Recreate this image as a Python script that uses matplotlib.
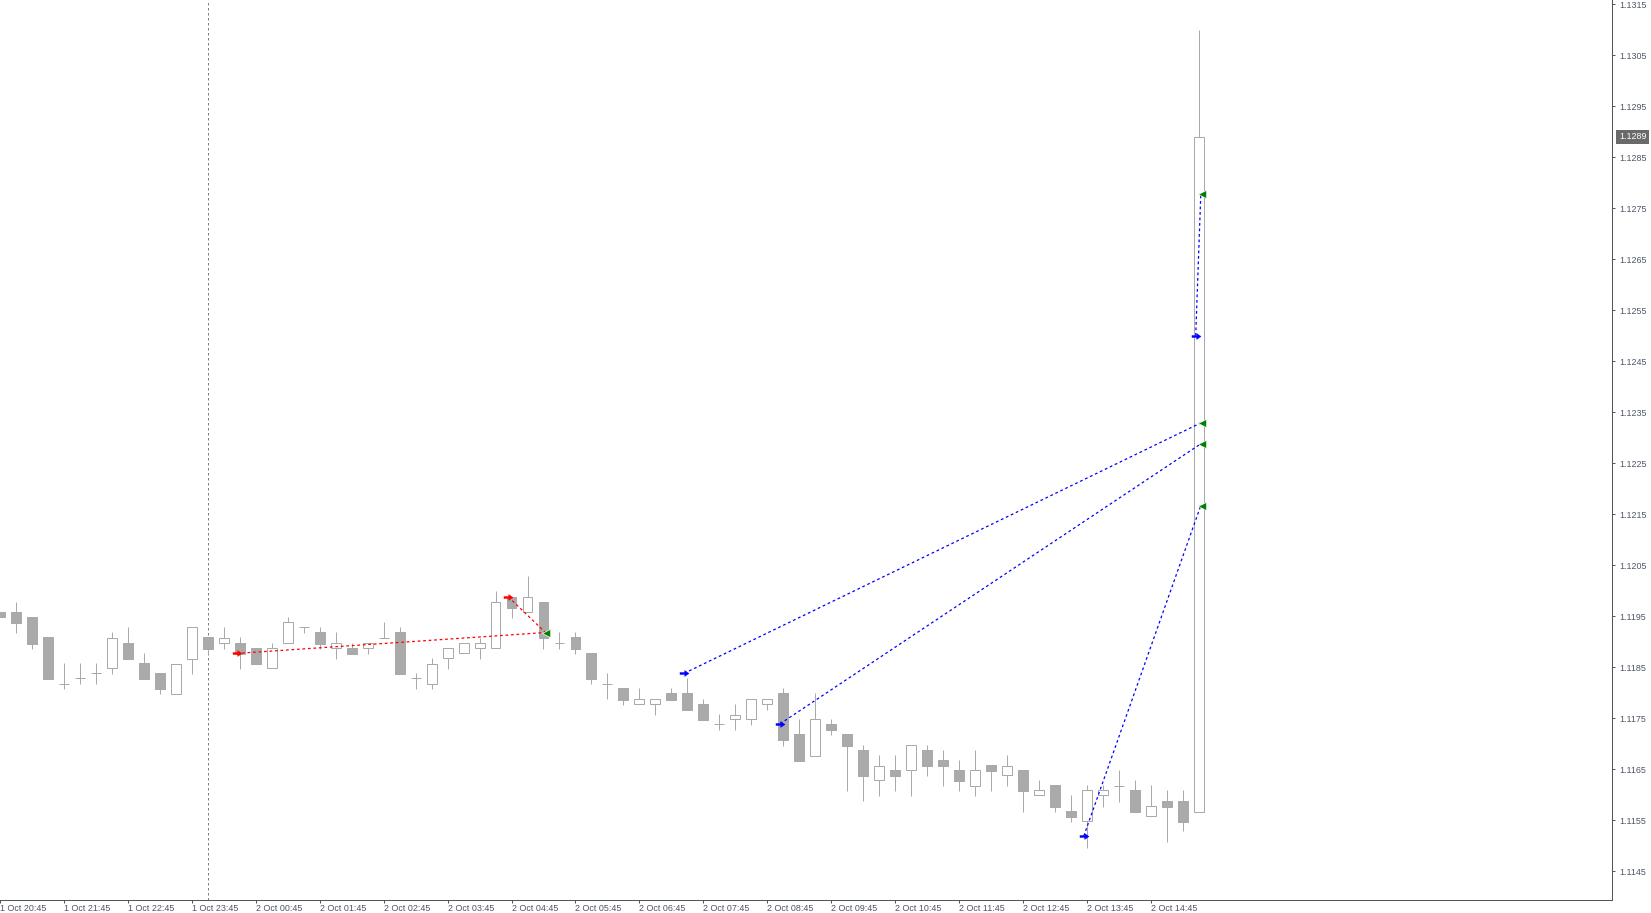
import matplotlib
matplotlib.use("Agg")
import matplotlib.pyplot as plt
from matplotlib.path import Path
import numpy as np

# ---------------- data (EURUSD M15) ----------------
opens = [1.11959, 1.11959, 1.11948, 1.11909, 1.11818, 1.11828, 1.11838, 1.11848, 1.11898, 1.11858,
         1.11839, 1.11798, 1.11867, 1.11909, 1.11897, 1.11898, 1.11888, 1.11848, 1.11897, 1.11928,
         1.11919, 1.11887, 1.11888, 1.11887, 1.11908, 1.11919, 1.11828, 1.11818, 1.11868, 1.11877,
         1.11887, 1.11887, 1.11988, 1.11958, 1.11978, 1.11897, 1.11909, 1.11878, 1.11818, 1.11809,
         1.11777, 1.11777, 1.11799, 1.11799, 1.11778, 1.11738, 1.11748, 1.11748, 1.11777, 1.11799,
         1.11719, 1.11676, 1.11739, 1.11719, 1.11688, 1.11628, 1.11648, 1.11648, 1.11688, 1.11668,
         1.11648, 1.11618, 1.11658, 1.11638, 1.11648, 1.11599, 1.11619, 1.11568, 1.11548, 1.11599,
         1.11618, 1.11609, 1.11558, 1.11588, 1.11588, 1.11567]
highs = [1.11959, 1.11978, 1.11948, 1.11909, 1.11858, 1.11858, 1.11858, 1.11919, 1.11929, 1.11878,
         1.11839, 1.11857, 1.11929, 1.11909, 1.11929, 1.11909, 1.11888, 1.11898, 1.11948, 1.11929,
         1.11929, 1.11919, 1.11898, 1.11897, 1.11939, 1.11929, 1.11839, 1.11868, 1.11887, 1.11897,
         1.11907, 1.11999, 1.11988, 1.12029, 1.11978, 1.11919, 1.11919, 1.11878, 1.11839, 1.11809,
         1.11809, 1.11787, 1.11809, 1.11829, 1.11788, 1.11758, 1.11778, 1.11787, 1.11787, 1.11809,
         1.11748, 1.11799, 1.11748, 1.11719, 1.11698, 1.11677, 1.11677, 1.11697, 1.11698, 1.11688,
         1.11668, 1.11688, 1.11658, 1.11678, 1.11648, 1.11629, 1.11619, 1.11599, 1.11619, 1.11619,
         1.11648, 1.11629, 1.11619, 1.11609, 1.11609, 1.13099]
lows = [1.11948, 1.11918, 1.11886, 1.11827, 1.11808, 1.11818, 1.11818, 1.11837, 1.11867, 1.11827,
        1.11798, 1.11798, 1.11837, 1.11876, 1.11886, 1.11847, 1.11856, 1.11848, 1.11897, 1.11918,
        1.11886, 1.11867, 1.11876, 1.11876, 1.11908, 1.11837, 1.11808, 1.11808, 1.11847, 1.11877,
        1.11867, 1.11887, 1.11947, 1.11958, 1.11886, 1.11886, 1.11876, 1.11818, 1.11787, 1.11776,
        1.11777, 1.11757, 1.11786, 1.11767, 1.11747, 1.11727, 1.11727, 1.11737, 1.11767, 1.11696,
        1.11667, 1.11676, 1.11718, 1.11608, 1.11587, 1.11598, 1.11608, 1.11598, 1.11637, 1.11618,
        1.11608, 1.11598, 1.11608, 1.11618, 1.11567, 1.11599, 1.11567, 1.11547, 1.11496, 1.11576,
        1.11586, 1.11567, 1.11558, 1.11508, 1.11528, 1.11567]
closes = [1.11948, 1.11937, 1.11896, 1.11827, 1.11818, 1.11828, 1.11838, 1.11908, 1.11867, 1.11827,
          1.11808, 1.11857, 1.11929, 1.11886, 1.11908, 1.11876, 1.11856, 1.11888, 1.11938, 1.11928,
          1.11896, 1.11897, 1.11876, 1.11897, 1.11908, 1.11837, 1.11828, 1.11857, 1.11887, 1.11897,
          1.11897, 1.11977, 1.11967, 1.11987, 1.11908, 1.11897, 1.11886, 1.11827, 1.11818, 1.11786,
          1.11787, 1.11787, 1.11786, 1.11767, 1.11747, 1.11738, 1.11757, 1.11787, 1.11787, 1.11708,
          1.11667, 1.11748, 1.11727, 1.11696, 1.11637, 1.11657, 1.11637, 1.11697, 1.11657, 1.11657,
          1.11627, 1.11648, 1.11647, 1.11657, 1.11608, 1.11609, 1.11576, 1.11557, 1.11609, 1.11609,
          1.11618, 1.11567, 1.11577, 1.11576, 1.11547, 1.12890]

time_labels = ["1 Oct 20:45", "1 Oct 21:45", "1 Oct 22:45", "1 Oct 23:45", "2 Oct 00:45",
               "2 Oct 01:45", "2 Oct 02:45", "2 Oct 03:45", "2 Oct 04:45", "2 Oct 05:45",
               "2 Oct 06:45", "2 Oct 07:45", "2 Oct 08:45", "2 Oct 09:45", "2 Oct 10:45",
               "2 Oct 11:45", "2 Oct 12:45", "2 Oct 13:45", "2 Oct 14:45"]
time_label_bars = [0, 4, 8, 12, 16, 20, 24, 28, 32, 36, 40, 44, 48, 52, 56, 60, 64, 68, 72]
day_separator_bar = 13  # 2 Oct 00:00

price_ticks = [1.1145, 1.1155, 1.1165, 1.1175, 1.1185, 1.1195, 1.1205, 1.1215, 1.1225,
               1.1235, 1.1245, 1.1255, 1.1265, 1.1275, 1.1285, 1.1295, 1.1305, 1.1315]

trade_type = ["sell", "sell", "buy", "buy", "buy", "buy"]
trade_open_bar = [15, 32, 43, 49, 68, 75]
trade_open_price = [1.11877, 1.11988, 1.11838, 1.11739, 1.11519, 1.12500]
trade_close_bar = [34, 34, 75, 75, 75, 75]
trade_close_price = [1.11918, 1.11918, 1.12329, 1.12288, 1.12167, 1.12777]

# ---------------- styling ----------------
plt.rcParams["font.family"] = ["Liberation Sans", "DejaVu Sans"]
W, H = 1651, 913
fig = plt.figure(figsize=(W / 100, H / 100), dpi=100)
fig.patch.set_facecolor("white")
ax_left_px, ax_right_px, ax_top_px, ax_bottom_px = 0, 1612, 0, 900
ax = fig.add_axes([ax_left_px / W, (H - ax_bottom_px) / H,
                   (ax_right_px - ax_left_px) / W, (ax_bottom_px - ax_top_px) / H])
ax.set_facecolor("white")

candle_col = "#aaaaaa"
px = 0.72  # 1 pixel in points

o = np.array(opens); h = np.array(highs); l = np.array(lows); c = np.array(closes)
x = np.arange(len(o))

# wicks
ax.vlines(x, l, h, color=candle_col, lw=px, zorder=2)
# bodies
bull = c >= o
body_w = 0.62
ax.bar(x[bull], (c - o)[bull], bottom=o[bull], width=body_w, facecolor="white",
       edgecolor=candle_col, lw=px, zorder=3)
ax.bar(x[~bull], (o - c)[~bull], bottom=c[~bull], width=body_w, facecolor=candle_col,
       edgecolor=candle_col, lw=px, zorder=3)

# day separator
ax.axvline(day_separator_bar, color="#808080", lw=px, ls=(0, (2.5, 2.5)), zorder=1)

# trade arrows
arrow_path = Path([(-1.0, 0.22), (0.05, 0.22), (0.05, 0.65), (1.0, 0.0), (0.05, -0.65),
                   (0.05, -0.22), (-1.0, -0.22), (-1.0, 0.22)],
                  [Path.MOVETO] + [Path.LINETO] * 6 + [Path.CLOSEPOLY])
for t, ob, op, cb, cp in zip(trade_type, trade_open_bar, trade_open_price,
                             trade_close_bar, trade_close_price):
    col = "#0000ff" if t == "buy" else "#ff0000"
    xo, xc = ob - 0.2, cb + 0.12
    ax.plot([xo, xc], [op, cp], color=col, lw=0.9, ls=(0, (2.2, 2.2)), zorder=4)
    ax.plot([xo], [op], marker=arrow_path, ms=6.5, color=col, mec=col, mew=0.3, zorder=5)
    ax.plot([xc + 0.06], [cp], marker="<", ms=6, color="#008000", mec="white", mew=0.4, zorder=5)

# limits (pixel mapping: 16 px per bar, 5.1 px per 0.0001)
bar_px, pip_px = 16.0, 5.1
x0 = 1.5 / bar_px
ax.set_xlim(x0, x0 + (ax_right_px - ax_left_px) / bar_px)
y_top = 1.1315 + 4.2 / pip_px * 0.0001
ax.set_ylim(y_top - (ax_bottom_px - ax_top_px) / pip_px * 0.0001, y_top)

# spines
for s in ["left", "top"]:
    ax.spines[s].set_visible(False)
for s in ["right", "bottom"]:
    ax.spines[s].set_color("#555555")
    ax.spines[s].set_linewidth(px)

lab_col = "#4d5566"
ax.yaxis.tick_right()
ax.set_yticks(price_ticks)
ax.set_yticklabels([f"{p:.4f}" for p in price_ticks])
ax.tick_params(axis="y", direction="out", length=2.2, width=px, color="#555555",
               pad=2.8, labelsize=6.4, labelcolor=lab_col)

ax.set_xticks(time_label_bars)
ax.set_xticklabels(time_labels, ha="left")
ax.tick_params(axis="x", direction="out", length=2.5, width=px, color="#555555",
               pad=0.6, labelsize=6.4, labelcolor=lab_col)
for lbl in ax.get_xticklabels():
    lbl.set_clip_on(False)

# current price label
last = closes[-1]
ax.annotate(f"{last:.4f}", xy=(1.0, last), xycoords=("axes fraction", "data"),
            xytext=(7, 0), textcoords="offset pixels", ha="left", va="center",
            fontsize=6.4, color="white", annotation_clip=False,
            bbox=dict(boxstyle="square,pad=0.3", fc="#6a6a6a", ec="none"))

fig.savefig("out.png", dpi=100, facecolor="white")
